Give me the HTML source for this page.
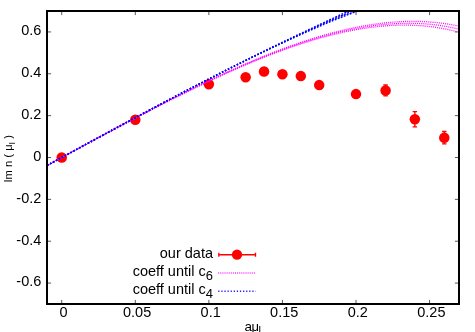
<!DOCTYPE html>
<html><head><meta charset="utf-8"><title>plot</title>
<style>
html,body{margin:0;padding:0;background:#fff;}
body{width:475px;height:332px;overflow:hidden;font-family:"Liberation Sans",sans-serif;}
svg{display:block;will-change:transform;}
text{font-family:"Liberation Sans",sans-serif;fill:#000;}
</style></head><body>
<svg width="475" height="332" viewBox="0 0 475 332">
<rect width="475" height="332" fill="#fff"/>
<defs><clipPath id="c"><rect x="48" y="12" width="410" height="291"/></clipPath></defs>

<g stroke="#000" stroke-width="1" stroke-opacity="0.65" fill="none">
<path d="M61.71,303 v-3.1 M61.71,12 v3.1"/>
<path d="M135.29,303 v-3.1 M135.29,12 v3.1"/>
<path d="M208.86,303 v-3.1 M208.86,12 v3.1"/>
<path d="M282.43,303 v-3.1 M282.43,12 v3.1"/>
<path d="M356.00,303 v-3.1 M356.00,12 v3.1"/>
<path d="M429.57,303 v-3.1 M429.57,12 v3.1"/>
<path d="M48,283.07 h3.1 M458,283.07 h-3.1"/>
<path d="M48,241.21 h3.1 M458,241.21 h-3.1"/>
<path d="M48,199.36 h3.1 M458,199.36 h-3.1"/>
<path d="M48,157.50 h3.1 M458,157.50 h-3.1"/>
<path d="M48,115.64 h3.1 M458,115.64 h-3.1"/>
<path d="M48,73.79 h3.1 M458,73.79 h-3.1"/>
<path d="M48,31.93 h3.1 M458,31.93 h-3.1"/>
</g>
<g font-size="14.5px">
<text x="63.51" y="316.6" text-anchor="middle">0</text>
<text x="137.09" y="316.6" text-anchor="middle">0.05</text>
<text x="210.66" y="316.6" text-anchor="middle">0.1</text>
<text x="284.23" y="316.6" text-anchor="middle">0.15</text>
<text x="357.80" y="316.6" text-anchor="middle">0.2</text>
<text x="431.37" y="316.6" text-anchor="middle">0.25</text>
<text x="41.3" y="286.37" text-anchor="end">-0.6</text>
<text x="41.3" y="244.51" text-anchor="end">-0.4</text>
<text x="41.3" y="202.66" text-anchor="end">-0.2</text>
<text x="41.3" y="160.80" text-anchor="end">0</text>
<text x="41.3" y="118.94" text-anchor="end">0.2</text>
<text x="41.3" y="77.09" text-anchor="end">0.4</text>
<text x="41.3" y="35.23" text-anchor="end">0.6</text>
</g>
<g clip-path="url(#c)">
<g stroke="#ff0000" stroke-width="1.35" fill="none">
<path d="M385.58,85.02 V95.82 M383.38,85.02 h4.4 M383.38,95.82 h4.4"/>
<path d="M414.86,111.60 V126.80 M412.66,111.60 h4.4 M412.66,126.80 h4.4"/>
<path d="M444.29,131.51 V143.90 M442.09,131.51 h4.4 M442.09,143.90 h4.4"/>
</g>
<g fill="#ff0000">
<circle cx="61.71" cy="157.50" r="5.25"/>
<circle cx="135.29" cy="119.70" r="5.25"/>
<circle cx="208.86" cy="84.21" r="5.25"/>
<circle cx="245.64" cy="77.30" r="5.25"/>
<circle cx="264.04" cy="71.48" r="5.25"/>
<circle cx="282.43" cy="74.31" r="5.25"/>
<circle cx="300.82" cy="76.09" r="5.25"/>
<circle cx="319.21" cy="85.09" r="5.25"/>
<circle cx="356.00" cy="94.09" r="5.25"/>
<circle cx="385.58" cy="90.42" r="5.25"/>
<circle cx="414.86" cy="119.20" r="5.25"/>
<circle cx="444.29" cy="137.70" r="5.25"/>
</g>
<g fill="none" stroke="#ff00ff" stroke-width="1.28">
<path d="M46.55,165.69l0.88,-0.47M48.40,164.69l0.88,-0.47M50.24,163.69l0.88,-0.47M52.09,162.70l0.88,-0.48M53.94,161.70l0.88,-0.48M55.79,160.70l0.88,-0.48M57.63,159.70l0.88,-0.48M59.48,158.71l0.88,-0.48M61.33,157.71l0.88,-0.48M63.17,156.71l0.88,-0.48M65.02,155.72l0.88,-0.48M66.86,154.72l0.88,-0.48M68.71,153.72l0.88,-0.48M70.55,152.73l0.88,-0.48M72.39,151.73l0.88,-0.47M74.24,150.74l0.88,-0.47M76.08,149.74l0.88,-0.47M77.93,148.75l0.88,-0.47M79.77,147.75l0.88,-0.47M81.62,146.76l0.88,-0.47M83.46,145.76l0.88,-0.47M85.31,144.77l0.88,-0.47M87.15,143.78l0.88,-0.47M89.00,142.78l0.88,-0.47M90.85,141.79l0.88,-0.47M92.69,140.80l0.88,-0.47M94.54,139.81l0.88,-0.47M96.39,138.81l0.88,-0.47M98.23,137.82l0.88,-0.47M100.08,136.83l0.88,-0.47M101.93,135.84l0.88,-0.47M103.78,134.85l0.88,-0.47M105.63,133.87l0.88,-0.47M107.47,132.88l0.88,-0.47M109.32,131.89l0.88,-0.47M111.17,130.91l0.88,-0.47M113.02,129.92l0.88,-0.47M114.87,128.94l0.88,-0.47M116.73,127.95l0.88,-0.47M118.58,126.97l0.88,-0.47M120.43,125.99l0.88,-0.47M122.28,125.01l0.88,-0.47M124.13,124.03l0.88,-0.47M125.99,123.05l0.88,-0.47M127.84,122.07l0.88,-0.47M129.70,121.09l0.89,-0.47M131.55,120.12l0.89,-0.47M133.41,119.14l0.89,-0.46M135.26,118.17l0.89,-0.46M137.12,117.20l0.89,-0.46M138.98,116.23l0.89,-0.46M140.84,115.26l0.89,-0.46M142.70,114.29l0.89,-0.46M144.56,113.32l0.89,-0.46M146.42,112.36l0.89,-0.46M148.28,111.39l0.89,-0.46M150.14,110.43l0.89,-0.46M152.00,109.47l0.89,-0.46M153.87,108.51l0.89,-0.46M155.73,107.55l0.89,-0.46M157.60,106.60l0.89,-0.46M159.46,105.64l0.89,-0.45M161.33,104.69l0.89,-0.45M163.20,103.74l0.89,-0.45M165.07,102.79l0.89,-0.45M166.94,101.84l0.89,-0.45M168.81,100.90l0.89,-0.45M170.68,99.96l0.89,-0.45M172.55,99.01l0.89,-0.45M174.43,98.08l0.89,-0.45M176.30,97.14l0.89,-0.45M178.18,96.20l0.90,-0.45M180.05,95.27l0.90,-0.44M181.93,94.34l0.90,-0.44M183.81,93.41l0.90,-0.44M185.69,92.49l0.90,-0.44M187.57,91.56l0.90,-0.44M189.45,90.64l0.90,-0.44M191.34,89.72l0.90,-0.44M193.22,88.81l0.90,-0.44M195.11,87.89l0.90,-0.43M197.00,86.98l0.90,-0.43M198.89,86.07l0.90,-0.43M200.78,85.17l0.90,-0.43M202.67,84.27l0.90,-0.43M204.56,83.37l0.90,-0.43M206.45,82.47l0.90,-0.43M208.35,81.57l0.91,-0.43M210.25,80.68l0.91,-0.42M212.15,79.80l0.91,-0.42M214.05,78.91l0.91,-0.42M215.95,78.03l0.91,-0.42M217.85,77.15l0.91,-0.42M219.75,76.28l0.91,-0.42M221.66,75.41l0.91,-0.41M223.57,74.54l0.91,-0.41M225.48,73.68l0.91,-0.41M227.39,72.82l0.91,-0.41M229.30,71.96l0.91,-0.41M231.21,71.11l0.91,-0.41M233.13,70.26l0.91,-0.40M235.05,69.42l0.92,-0.40M236.96,68.57l0.92,-0.40M238.89,67.74l0.92,-0.40M240.81,66.91l0.92,-0.40M242.73,66.08l0.92,-0.39M244.66,65.25l0.92,-0.39M246.59,64.44l0.92,-0.39M248.52,63.62l0.92,-0.39M250.45,62.81l0.92,-0.38M252.38,62.01l0.92,-0.38M254.32,61.21l0.92,-0.38M256.26,60.41l0.93,-0.38M258.20,59.62l0.93,-0.38M260.14,58.84l0.93,-0.37M262.08,58.06l0.93,-0.37M264.03,57.28l0.93,-0.37M265.97,56.51l0.93,-0.37M267.92,55.75l0.93,-0.36M269.88,54.99l0.93,-0.36M271.83,54.24l0.93,-0.36M273.79,53.49l0.94,-0.35M275.75,52.75l0.94,-0.35M277.71,52.02l0.94,-0.35M279.67,51.29l0.94,-0.35M281.63,50.57l0.94,-0.34M283.60,49.86l0.94,-0.34M285.57,49.15l0.94,-0.34M287.54,48.45l0.94,-0.33M289.52,47.75l0.94,-0.33M291.50,47.06l0.95,-0.33M293.47,46.38l0.95,-0.32M295.46,45.71l0.95,-0.32M297.44,45.04l0.95,-0.32M299.43,44.39l0.95,-0.31M301.41,43.73l0.95,-0.31M303.41,43.09l0.95,-0.30M305.40,42.46l0.95,-0.30M307.40,41.83l0.96,-0.30M309.39,41.21l0.96,-0.29M311.40,40.60l0.96,-0.29M313.40,40.00l0.96,-0.28M315.41,39.41l0.96,-0.28M317.41,38.83l0.96,-0.28M319.42,38.25l0.96,-0.27M321.44,37.69l0.96,-0.27M323.45,37.13l0.97,-0.26M325.47,36.59l0.97,-0.26M327.49,36.05l0.97,-0.25M329.52,35.52l0.97,-0.25M331.54,35.01l0.97,-0.24M333.57,34.50l0.97,-0.24M335.60,34.01l0.97,-0.23M337.64,33.53l0.97,-0.23M339.67,33.05l0.98,-0.22M341.71,32.59l0.98,-0.22M343.75,32.14l0.98,-0.21M345.80,31.70l0.98,-0.21M347.84,31.28l0.98,-0.20M349.89,30.86l0.98,-0.19M351.94,30.46l0.98,-0.19M353.99,30.07l0.98,-0.18M356.05,29.70l0.98,-0.18M358.11,29.33l0.99,-0.17M360.16,28.98l0.99,-0.16M362.23,28.64l0.99,-0.16M364.29,28.32l0.99,-0.15M366.36,28.01l0.99,-0.14M368.42,27.72l0.99,-0.14M370.49,27.44l0.99,-0.13M372.56,27.17l0.99,-0.12M374.64,26.92l0.99,-0.11M376.71,26.68l0.99,-0.11M378.79,26.46l0.99,-0.10M380.87,26.26l1.00,-0.09M382.95,26.07l1.00,-0.08M385.03,25.89l1.00,-0.08M387.11,25.74l1.00,-0.07M389.19,25.60l1.00,-0.06M391.27,25.48l1.00,-0.05M393.36,25.37l1.00,-0.04M395.45,25.28l1.00,-0.04M397.53,25.21l1.00,-0.03M399.62,25.16l1.00,-0.02M401.71,25.12l1.00,-0.01M403.79,25.11l1.00,-0.00M405.88,25.11l1.00,0.01M407.97,25.13l1.00,0.02M410.06,25.17l1.00,0.03M412.14,25.23l1.00,0.04M414.23,25.31l1.00,0.04M416.31,25.40l1.00,0.05M418.40,25.52l1.00,0.06M420.48,25.66l1.00,0.07M422.56,25.82l1.00,0.08M424.64,26.00l1.00,0.09M426.72,26.20l0.99,0.10M428.80,26.42l0.99,0.11M430.87,26.66l0.99,0.12M432.94,26.93l0.99,0.13M435.01,27.21l0.99,0.14M437.08,27.52l0.99,0.15M439.14,27.85l0.99,0.16M441.20,28.20l0.98,0.18M443.25,28.57l0.98,0.19M445.31,28.96l0.98,0.20M447.35,29.38l0.98,0.21M449.40,29.81l0.98,0.22M451.44,30.27l0.97,0.23M453.47,30.76l0.97,0.24M455.50,31.26l0.97,0.25"/>
<path d="M46.56,165.72l0.88,-0.48M48.41,164.72l0.88,-0.48M50.25,163.72l0.88,-0.48M52.10,162.72l0.88,-0.48M53.95,161.71l0.88,-0.48M55.79,160.71l0.88,-0.48M57.64,159.71l0.88,-0.48M59.48,158.71l0.88,-0.48M61.33,157.71l0.88,-0.48M63.17,156.71l0.88,-0.48M65.02,155.71l0.88,-0.48M66.87,154.71l0.88,-0.48M68.71,153.70l0.88,-0.48M70.56,152.70l0.88,-0.48M72.40,151.70l0.88,-0.48M74.25,150.70l0.88,-0.48M76.10,149.70l0.88,-0.48M77.94,148.70l0.88,-0.48M79.79,147.70l0.88,-0.48M81.64,146.70l0.88,-0.48M83.48,145.70l0.88,-0.48M85.33,144.70l0.88,-0.48M87.18,143.70l0.88,-0.48M89.02,142.70l0.88,-0.48M90.87,141.71l0.88,-0.48M92.72,140.71l0.88,-0.47M94.57,139.71l0.88,-0.47M96.42,138.71l0.88,-0.47M98.27,137.72l0.88,-0.47M100.11,136.72l0.88,-0.47M101.96,135.73l0.88,-0.47M103.81,134.73l0.88,-0.47M105.66,133.74l0.88,-0.47M107.51,132.75l0.88,-0.47M109.37,131.75l0.88,-0.47M111.22,130.76l0.88,-0.47M113.07,129.77l0.88,-0.47M114.92,128.78l0.88,-0.47M116.77,127.79l0.88,-0.47M118.63,126.81l0.88,-0.47M120.48,125.82l0.88,-0.47M122.33,124.83l0.88,-0.47M124.19,123.85l0.88,-0.47M126.04,122.86l0.88,-0.47M127.90,121.88l0.88,-0.47M129.76,120.90l0.88,-0.47M131.61,119.92l0.88,-0.47M133.47,118.94l0.88,-0.47M135.33,117.96l0.89,-0.47M137.19,116.98l0.89,-0.46M139.05,116.01l0.89,-0.46M140.91,115.03l0.89,-0.46M142.77,114.06l0.89,-0.46M144.63,113.09l0.89,-0.46M146.49,112.11l0.89,-0.46M148.35,111.15l0.89,-0.46M150.22,110.18l0.89,-0.46M152.08,109.21l0.89,-0.46M153.95,108.25l0.89,-0.46M155.81,107.28l0.89,-0.46M157.68,106.32l0.89,-0.46M159.55,105.36l0.89,-0.46M161.42,104.40l0.89,-0.46M163.29,103.45l0.89,-0.45M165.16,102.49l0.89,-0.45M167.03,101.54l0.89,-0.45M168.90,100.59l0.89,-0.45M170.77,99.64l0.89,-0.45M172.65,98.69l0.89,-0.45M174.52,97.75l0.89,-0.45M176.40,96.81l0.89,-0.45M178.28,95.87l0.89,-0.45M180.16,94.93l0.89,-0.45M182.04,93.99l0.90,-0.45M183.92,93.06l0.90,-0.44M185.80,92.13l0.90,-0.44M187.68,91.20l0.90,-0.44M189.57,90.27l0.90,-0.44M191.45,89.35l0.90,-0.44M193.34,88.42l0.90,-0.44M195.23,87.50l0.90,-0.44M197.12,86.59l0.90,-0.44M199.01,85.67l0.90,-0.43M200.90,84.76l0.90,-0.43M202.79,83.85l0.90,-0.43M204.69,82.95l0.90,-0.43M206.58,82.04l0.90,-0.43M208.48,81.14l0.90,-0.43M210.38,80.25l0.90,-0.43M212.28,79.35l0.91,-0.42M214.18,78.46l0.91,-0.42M216.08,77.58l0.91,-0.42M217.99,76.69l0.91,-0.42M219.90,75.81l0.91,-0.42M221.80,74.93l0.91,-0.42M223.71,74.06l0.91,-0.41M225.62,73.19l0.91,-0.41M227.54,72.32l0.91,-0.41M229.45,71.46l0.91,-0.41M231.37,70.60l0.91,-0.41M233.29,69.74l0.91,-0.41M235.21,68.89l0.91,-0.40M237.13,68.05l0.92,-0.40M239.05,67.20l0.92,-0.40M240.97,66.36l0.92,-0.40M242.90,65.53l0.92,-0.40M244.83,64.70l0.92,-0.39M246.76,63.87l0.92,-0.39M248.69,63.05l0.92,-0.39M250.63,62.23l0.92,-0.39M252.56,61.42l0.92,-0.39M254.50,60.61l0.92,-0.38M256.44,59.81l0.92,-0.38M258.38,59.01l0.93,-0.38M260.33,58.22l0.93,-0.38M262.28,57.43l0.93,-0.37M264.22,56.64l0.93,-0.37M266.17,55.87l0.93,-0.37M268.13,55.09l0.93,-0.37M270.08,54.33l0.93,-0.36M272.04,53.57l0.93,-0.36M274.00,52.81l0.93,-0.36M275.96,52.06l0.93,-0.35M277.92,51.32l0.94,-0.35M279.89,50.58l0.94,-0.35M281.86,49.85l0.94,-0.35M283.83,49.12l0.94,-0.34M285.80,48.41l0.94,-0.34M287.78,47.69l0.94,-0.34M289.76,46.99l0.94,-0.33M291.74,46.29l0.94,-0.33M293.72,45.60l0.95,-0.33M295.71,44.91l0.95,-0.32M297.69,44.24l0.95,-0.32M299.68,43.57l0.95,-0.32M301.68,42.91l0.95,-0.31M303.67,42.25l0.95,-0.31M305.67,41.60l0.95,-0.31M307.67,40.96l0.95,-0.30M309.67,40.33l0.95,-0.30M311.68,39.71l0.96,-0.29M313.69,39.10l0.96,-0.29M315.70,38.49l0.96,-0.29M317.71,37.89l0.96,-0.28M319.73,37.31l0.96,-0.28M321.75,36.73l0.96,-0.27M323.77,36.16l0.96,-0.27M325.79,35.60l0.96,-0.26M327.82,35.05l0.97,-0.26M329.85,34.51l0.97,-0.25M331.88,33.97l0.97,-0.25M333.91,33.45l0.97,-0.24M335.95,32.94l0.97,-0.24M337.99,32.44l0.97,-0.23M340.03,31.95l0.97,-0.23M342.08,31.48l0.97,-0.22M344.12,31.01l0.98,-0.22M346.17,30.55l0.98,-0.21M348.23,30.11l0.98,-0.21M350.28,29.67l0.98,-0.20M352.34,29.25l0.98,-0.20M354.40,28.85l0.98,-0.19M356.46,28.45l0.98,-0.18M358.53,28.07l0.98,-0.18M360.59,27.70l0.99,-0.17M362.66,27.34l0.99,-0.17M364.73,26.99l0.99,-0.16M366.81,26.66l0.99,-0.15M368.88,26.35l0.99,-0.15M370.96,26.04l0.99,-0.14M373.04,25.75l0.99,-0.13M375.12,25.48l0.99,-0.13M377.21,25.22l0.99,-0.12M379.29,24.98l0.99,-0.11M381.38,24.75l0.99,-0.10M383.47,24.53l1.00,-0.10M385.56,24.34l1.00,-0.09M387.65,24.15l1.00,-0.08M389.75,23.99l1.00,-0.07M391.84,23.84l1.00,-0.07M393.94,23.70l1.00,-0.06M396.03,23.59l1.00,-0.05M398.13,23.49l1.00,-0.04M400.23,23.41l1.00,-0.03M402.33,23.35l1.00,-0.02M404.43,23.30l1.00,-0.02M406.53,23.27l1.00,-0.01M408.63,23.26l1.00,0.00M410.73,23.27l1.00,0.01M412.83,23.30l1.00,0.02M414.93,23.35l1.00,0.03M417.03,23.42l1.00,0.04M419.12,23.50l1.00,0.05M421.22,23.61l1.00,0.06M423.32,23.73l1.00,0.07M425.41,23.88l1.00,0.08M427.51,24.05l1.00,0.09M429.60,24.23l1.00,0.10M431.69,24.44l0.99,0.11M433.77,24.67l0.99,0.12M435.86,24.92l0.99,0.13M437.94,25.19l0.99,0.14M440.02,25.48l0.99,0.15M442.10,25.79l0.99,0.16M444.17,26.13l0.99,0.17M446.24,26.48l0.98,0.18M448.31,26.86l0.98,0.19M450.37,27.26l0.98,0.20M452.43,27.68l0.98,0.21M454.48,28.13l0.98,0.22M456.53,28.59l0.97,0.23"/>
<path d="M46.57,165.75l0.88,-0.48M48.42,164.74l0.88,-0.48M50.26,163.74l0.88,-0.48M52.11,162.73l0.88,-0.48M53.95,161.73l0.88,-0.48M55.80,160.72l0.88,-0.48M57.64,159.72l0.88,-0.48M59.48,158.71l0.88,-0.48M61.33,157.71l0.88,-0.48M63.18,156.70l0.88,-0.48M65.02,155.70l0.88,-0.48M66.87,154.69l0.88,-0.48M68.72,153.68l0.88,-0.48M70.57,152.68l0.88,-0.48M72.41,151.67l0.88,-0.48M74.26,150.66l0.88,-0.48M76.11,149.66l0.88,-0.48M77.96,148.65l0.88,-0.48M79.81,147.65l0.88,-0.48M81.65,146.64l0.88,-0.48M83.50,145.64l0.88,-0.48M85.35,144.63l0.88,-0.48M87.20,143.63l0.88,-0.48M89.05,142.62l0.88,-0.48M90.90,141.62l0.88,-0.48M92.75,140.62l0.88,-0.48M94.60,139.62l0.88,-0.48M96.45,138.61l0.88,-0.48M98.30,137.61l0.88,-0.48M100.15,136.61l0.88,-0.48M102.00,135.61l0.88,-0.48M103.85,134.61l0.88,-0.47M105.70,133.61l0.88,-0.47M107.55,132.61l0.88,-0.47M109.41,131.62l0.88,-0.47M111.26,130.62l0.88,-0.47M113.11,129.62l0.88,-0.47M114.97,128.63l0.88,-0.47M116.82,127.64l0.88,-0.47M118.67,126.64l0.88,-0.47M120.53,125.65l0.88,-0.47M122.39,124.66l0.88,-0.47M124.24,123.67l0.88,-0.47M126.10,122.68l0.88,-0.47M127.96,121.69l0.88,-0.47M129.81,120.70l0.88,-0.47M131.67,119.72l0.88,-0.47M133.53,118.73l0.88,-0.47M135.39,117.75l0.88,-0.47M137.25,116.76l0.88,-0.47M139.11,115.78l0.88,-0.47M140.97,114.80l0.89,-0.47M142.84,113.82l0.89,-0.46M144.70,112.85l0.89,-0.46M146.56,111.87l0.89,-0.46M148.43,110.90l0.89,-0.46M150.29,109.92l0.89,-0.46M152.16,108.95l0.89,-0.46M154.03,107.98l0.89,-0.46M155.89,107.01l0.89,-0.46M157.76,106.05l0.89,-0.46M159.63,105.08l0.89,-0.46M161.50,104.12l0.89,-0.46M163.37,103.16l0.89,-0.46M165.25,102.20l0.89,-0.46M167.12,101.24l0.89,-0.45M168.99,100.28l0.89,-0.45M170.87,99.33l0.89,-0.45M172.74,98.37l0.89,-0.45M174.62,97.42l0.89,-0.45M176.50,96.48l0.89,-0.45M178.38,95.53l0.89,-0.45M180.26,94.59l0.89,-0.45M182.14,93.64l0.89,-0.45M184.02,92.70l0.90,-0.45M185.91,91.77l0.90,-0.44M187.79,90.83l0.90,-0.44M189.68,89.90l0.90,-0.44M191.57,88.97l0.90,-0.44M193.45,88.04l0.90,-0.44M195.34,87.12l0.90,-0.44M197.24,86.19l0.90,-0.44M199.13,85.27l0.90,-0.44M201.02,84.36l0.90,-0.43M202.92,83.44l0.90,-0.43M204.81,82.53l0.90,-0.43M206.71,81.62l0.90,-0.43M208.61,80.71l0.90,-0.43M210.51,79.81l0.90,-0.43M212.41,78.91l0.90,-0.43M214.32,78.01l0.91,-0.43M216.22,77.12l0.91,-0.42M218.13,76.23l0.91,-0.42M220.04,75.34l0.91,-0.42M221.95,74.46l0.91,-0.42M223.86,73.58l0.91,-0.42M225.77,72.70l0.91,-0.42M227.69,71.83l0.91,-0.41M229.60,70.96l0.91,-0.41M231.52,70.09l0.91,-0.41M233.44,69.23l0.91,-0.41M235.36,68.37l0.91,-0.41M237.29,67.52l0.91,-0.40M239.21,66.67l0.92,-0.40M241.14,65.82l0.92,-0.40M243.07,64.98l0.92,-0.40M245.00,64.14l0.92,-0.40M246.93,63.30l0.92,-0.39M248.87,62.47l0.92,-0.39M250.81,61.65l0.92,-0.39M252.74,60.83l0.92,-0.39M254.69,60.01l0.92,-0.39M256.63,59.20l0.92,-0.38M258.57,58.39l0.92,-0.38M260.52,57.59l0.93,-0.38M262.47,56.80l0.93,-0.38M264.42,56.00l0.93,-0.37M266.37,55.22l0.93,-0.37M268.33,54.44l0.93,-0.37M270.29,53.66l0.93,-0.37M272.25,52.89l0.93,-0.36M274.21,52.13l0.93,-0.36M276.18,51.37l0.93,-0.36M278.14,50.61l0.93,-0.36M280.11,49.87l0.94,-0.35M282.08,49.13l0.94,-0.35M284.06,48.39l0.94,-0.35M286.04,47.66l0.94,-0.34M288.01,46.94l0.94,-0.34M290.00,46.22l0.94,-0.34M291.98,45.51l0.94,-0.33M293.97,44.81l0.94,-0.33M295.96,44.12l0.94,-0.33M297.95,43.43l0.95,-0.32M299.94,42.75l0.95,-0.32M301.94,42.07l0.95,-0.32M303.94,41.41l0.95,-0.31M305.94,40.75l0.95,-0.31M307.95,40.10l0.95,-0.31M309.95,39.45l0.95,-0.30M311.96,38.82l0.95,-0.30M313.98,38.19l0.96,-0.29M315.99,37.57l0.96,-0.29M318.01,36.96l0.96,-0.29M320.03,36.36l0.96,-0.28M322.05,35.76l0.96,-0.28M324.08,35.18l0.96,-0.27M326.11,34.60l0.96,-0.27M328.14,34.04l0.96,-0.26M330.18,33.48l0.97,-0.26M332.21,32.93l0.97,-0.26M334.25,32.40l0.97,-0.25M336.30,31.87l0.97,-0.25M338.34,31.35l0.97,-0.24M340.39,30.85l0.97,-0.24M342.44,30.35l0.97,-0.23M344.50,29.87l0.97,-0.23M346.55,29.39l0.98,-0.22M348.61,28.93l0.98,-0.22M350.67,28.48l0.98,-0.21M352.74,28.04l0.98,-0.20M354.80,27.61l0.98,-0.20M356.87,27.20l0.98,-0.19M358.95,26.79l0.98,-0.19M361.02,26.40l0.98,-0.18M363.10,26.02l0.98,-0.17M365.18,25.66l0.99,-0.17M367.26,25.30l0.99,-0.16M369.34,24.97l0.99,-0.16M371.43,24.64l0.99,-0.15M373.52,24.33l0.99,-0.14M375.61,24.03l0.99,-0.14M377.70,23.75l0.99,-0.13M379.80,23.48l0.99,-0.12M381.90,23.22l0.99,-0.12M383.99,22.99l0.99,-0.11M386.09,22.76l0.99,-0.10M388.20,22.55l1.00,-0.09M390.30,22.36l1.00,-0.09M392.41,22.18l1.00,-0.08M394.51,22.02l1.00,-0.07M396.62,21.88l1.00,-0.06M398.73,21.75l1.00,-0.05M400.84,21.64l1.00,-0.05M402.95,21.55l1.00,-0.04M405.06,21.48l1.00,-0.03M407.17,21.42l1.00,-0.02M409.29,21.38l1.00,-0.01M411.40,21.36l1.00,-0.00M413.51,21.35l1.00,0.00M415.63,21.37l1.00,0.01M417.74,21.40l1.00,0.02M419.85,21.45l1.00,0.03M421.96,21.53l1.00,0.04M424.07,21.62l1.00,0.05M426.18,21.73l1.00,0.06M428.29,21.86l1.00,0.07M430.40,22.01l1.00,0.08M432.50,22.18l1.00,0.09M434.61,22.38l1.00,0.10M436.71,22.59l0.99,0.11M438.81,22.82l0.99,0.12M440.90,23.08l0.99,0.13M443.00,23.35l0.99,0.14M445.09,23.65l0.99,0.15M447.18,23.96l0.99,0.16M449.26,24.30l0.99,0.17M451.34,24.66l0.98,0.18M453.42,25.04l0.98,0.19M455.49,25.45l0.98,0.20M457.56,25.87l0.98,0.21"/>
</g>
<g fill="none" stroke="#0000ff" stroke-width="1.55">
<path d="M47.24,165.37l1.27,-0.69M50.14,163.79l1.27,-0.69M53.04,162.21l1.27,-0.69M55.94,160.64l1.27,-0.69M58.84,159.06l1.27,-0.69M61.74,157.49l1.27,-0.69M64.64,155.91l1.27,-0.69M67.54,154.33l1.27,-0.69M70.44,152.76l1.27,-0.69M73.34,151.18l1.27,-0.69M76.24,149.61l1.27,-0.69M79.14,148.03l1.27,-0.69M82.04,146.46l1.27,-0.69M84.94,144.88l1.27,-0.69M87.84,143.31l1.27,-0.69M90.74,141.73l1.27,-0.69M93.64,140.16l1.27,-0.69M96.54,138.59l1.27,-0.69M99.44,137.02l1.28,-0.69M102.34,135.45l1.28,-0.69M105.24,133.88l1.28,-0.69M108.15,132.31l1.28,-0.69M111.05,130.74l1.28,-0.69M113.95,129.17l1.28,-0.69M116.86,127.60l1.28,-0.69M119.76,126.04l1.28,-0.69M122.67,124.47l1.28,-0.69M125.57,122.91l1.28,-0.69M128.48,121.35l1.28,-0.69M131.39,119.78l1.28,-0.69M134.30,118.22l1.28,-0.69M137.21,116.67l1.28,-0.68M140.11,115.11l1.28,-0.68M143.02,113.55l1.28,-0.68M145.94,112.00l1.28,-0.68M148.85,110.45l1.28,-0.68M151.76,108.89l1.28,-0.68M154.67,107.35l1.28,-0.68M157.59,105.80l1.28,-0.68M160.50,104.25l1.28,-0.68M163.42,102.71l1.28,-0.68M166.34,101.17l1.28,-0.68M169.26,99.63l1.28,-0.68M172.18,98.09l1.28,-0.68M175.10,96.55l1.28,-0.67M178.02,95.02l1.29,-0.67M180.94,93.49l1.29,-0.67M183.87,91.96l1.29,-0.67M186.79,90.44l1.29,-0.67M189.72,88.91l1.29,-0.67M192.64,87.39l1.29,-0.67M195.57,85.87l1.29,-0.67M198.50,84.36l1.29,-0.67M201.43,82.84l1.29,-0.67M204.37,81.33l1.29,-0.66M207.30,79.83l1.29,-0.66M210.24,78.32l1.30,-0.66M213.17,76.82l1.30,-0.66M216.11,75.33l1.30,-0.66M219.05,73.83l1.30,-0.66M221.99,72.34l1.30,-0.66M224.93,70.86l1.30,-0.66M227.88,69.37l1.31,-0.66M230.82,67.89l1.31,-0.66M233.77,66.42l1.31,-0.65M236.72,64.95l1.31,-0.65M239.67,63.48l1.32,-0.65M242.62,62.02l1.32,-0.65M245.57,60.56l1.32,-0.65M248.52,59.11l1.32,-0.65M251.48,57.66l1.33,-0.65M254.44,56.21l1.33,-0.65M257.40,54.78l1.34,-0.65M260.36,53.34l1.34,-0.65M263.32,51.91l1.35,-0.65M266.28,50.49l1.35,-0.65M269.24,49.07l1.36,-0.65M272.21,47.66l1.36,-0.65M275.18,46.26l1.37,-0.65M278.15,44.86l1.38,-0.65M281.12,43.47l1.38,-0.65M284.09,42.08l1.39,-0.65M287.06,40.71l1.40,-0.65M290.03,39.34l1.41,-0.65M293.01,37.97l1.42,-0.65M295.99,36.62l1.43,-0.65M298.96,35.27l1.45,-0.65M301.94,33.93l1.46,-0.65M304.92,32.60l1.47,-0.65M307.90,31.28l1.49,-0.66M310.88,29.97l1.50,-0.66M313.87,28.67l1.52,-0.66M316.85,27.38l1.54,-0.66M319.83,26.09l1.56,-0.67M322.82,24.82l1.58,-0.67M325.80,23.56l1.60,-0.67M328.79,22.31l1.63,-0.68M331.77,21.08l1.65,-0.68M334.76,19.85l1.68,-0.68M337.75,18.64l1.71,-0.69M340.73,17.44l1.74,-0.69M343.72,16.26l1.77,-0.70M346.70,15.09l1.81,-0.70M349.69,13.93l1.85,-0.71M352.67,12.79l1.89,-0.71M355.66,11.66l1.92,-0.72M358.67,10.55l1.92,-0.71M361.67,9.45l1.93,-0.70M364.68,8.36l1.93,-0.69"/>
<path d="M47.24,165.37l1.27,-0.69M50.14,163.79l1.27,-0.69M53.04,162.21l1.27,-0.69M55.94,160.64l1.27,-0.69M58.84,159.06l1.27,-0.69M61.74,157.49l1.27,-0.69M64.64,155.91l1.27,-0.69M67.54,154.33l1.27,-0.69M70.44,152.76l1.27,-0.69M73.34,151.18l1.27,-0.69M76.24,149.61l1.27,-0.69M79.14,148.03l1.27,-0.69M82.04,146.46l1.27,-0.69M84.94,144.88l1.27,-0.69M87.84,143.31l1.27,-0.69M90.74,141.73l1.27,-0.69M93.64,140.16l1.27,-0.69M96.54,138.59l1.27,-0.69M99.44,137.02l1.28,-0.69M102.34,135.45l1.28,-0.69M105.24,133.88l1.28,-0.69M108.15,132.31l1.28,-0.69M111.05,130.74l1.28,-0.69M113.95,129.17l1.28,-0.69M116.86,127.60l1.28,-0.69M119.76,126.04l1.28,-0.69M122.67,124.47l1.28,-0.69M125.57,122.91l1.28,-0.69M128.48,121.34l1.28,-0.69M131.39,119.78l1.28,-0.69M134.30,118.22l1.28,-0.69M137.21,116.67l1.28,-0.68M140.11,115.11l1.28,-0.68M143.02,113.55l1.28,-0.68M145.94,112.00l1.28,-0.68M148.85,110.45l1.28,-0.68M151.76,108.89l1.28,-0.68M154.67,107.34l1.28,-0.68M157.59,105.80l1.28,-0.68M160.50,104.25l1.28,-0.68M163.42,102.71l1.28,-0.68M166.34,101.17l1.28,-0.68M169.26,99.63l1.28,-0.68M172.18,98.09l1.28,-0.68M175.10,96.55l1.28,-0.67M178.02,95.02l1.29,-0.67M180.94,93.49l1.29,-0.67M183.87,91.96l1.29,-0.67M186.79,90.43l1.29,-0.67M189.72,88.91l1.29,-0.67M192.65,87.38l1.29,-0.67M195.58,85.86l1.29,-0.67M198.51,84.35l1.29,-0.67M201.44,82.83l1.29,-0.67M204.37,81.32l1.29,-0.67M207.30,79.81l1.29,-0.66M210.24,78.31l1.30,-0.66M213.18,76.80l1.30,-0.66M216.12,75.30l1.30,-0.66M219.06,73.80l1.30,-0.66M222.00,72.31l1.30,-0.66M224.94,70.82l1.30,-0.66M227.89,69.33l1.30,-0.66M230.83,67.85l1.31,-0.66M233.78,66.37l1.31,-0.66M236.73,64.89l1.31,-0.66M239.68,63.41l1.31,-0.65M242.64,61.94l1.32,-0.65M245.59,60.48l1.32,-0.65M248.55,59.01l1.32,-0.65M251.50,57.55l1.33,-0.65M254.46,56.10l1.33,-0.65M257.43,54.65l1.33,-0.65M260.39,53.20l1.34,-0.65M263.35,51.76l1.34,-0.65M266.32,50.32l1.35,-0.65M269.29,48.88l1.35,-0.65M272.26,47.45l1.36,-0.65M275.23,46.02l1.37,-0.65M278.21,44.60l1.37,-0.65M281.18,43.18l1.38,-0.66M284.16,41.77l1.39,-0.66M287.14,40.36l1.40,-0.66M290.12,38.96l1.41,-0.66M293.11,37.56l1.42,-0.66M296.09,36.17l1.43,-0.66M299.08,34.78l1.44,-0.67M302.07,33.39l1.45,-0.67M305.06,32.02l1.46,-0.67M308.05,30.64l1.48,-0.68M311.05,29.28l1.49,-0.68M314.04,27.91l1.51,-0.68M317.04,26.56l1.53,-0.69M320.04,25.21l1.55,-0.69M323.04,23.86l1.57,-0.70M326.05,22.52l1.59,-0.71M329.05,21.19l1.61,-0.71M332.06,19.86l1.64,-0.72M335.07,18.54l1.66,-0.73M338.08,17.23l1.69,-0.73M341.09,15.92l1.72,-0.74M344.11,14.62l1.75,-0.75M347.12,13.32l1.79,-0.76M350.14,12.03l1.82,-0.77M353.16,10.75l1.86,-0.79M356.19,9.47l1.89,-0.79"/>
<path d="M47.24,165.37l1.27,-0.69M50.14,163.79l1.27,-0.69M53.04,162.21l1.27,-0.69M55.94,160.64l1.27,-0.69M58.84,159.06l1.27,-0.69M61.74,157.49l1.27,-0.69M64.64,155.91l1.27,-0.69M67.54,154.33l1.27,-0.69M70.44,152.76l1.27,-0.69M73.34,151.18l1.27,-0.69M76.24,149.61l1.27,-0.69M79.14,148.03l1.27,-0.69M82.04,146.46l1.27,-0.69M84.94,144.88l1.27,-0.69M87.84,143.31l1.27,-0.69M90.74,141.73l1.27,-0.69M93.64,140.16l1.27,-0.69M96.54,138.59l1.27,-0.69M99.44,137.02l1.28,-0.69M102.34,135.45l1.28,-0.69M105.24,133.88l1.28,-0.69M108.15,132.31l1.28,-0.69M111.05,130.74l1.28,-0.69M113.95,129.17l1.28,-0.69M116.86,127.60l1.28,-0.69M119.76,126.04l1.28,-0.69M122.67,124.47l1.28,-0.69M125.57,122.91l1.28,-0.69M128.48,121.34l1.28,-0.69M131.39,119.78l1.28,-0.69M134.30,118.22l1.28,-0.69M137.21,116.66l1.28,-0.68M140.11,115.11l1.28,-0.68M143.03,113.55l1.28,-0.68M145.94,112.00l1.28,-0.68M148.85,110.44l1.28,-0.68M151.76,108.89l1.28,-0.68M154.67,107.34l1.28,-0.68M157.59,105.80l1.28,-0.68M160.50,104.25l1.28,-0.68M163.42,102.71l1.28,-0.68M166.34,101.16l1.28,-0.68M169.26,99.62l1.28,-0.68M172.18,98.08l1.28,-0.68M175.10,96.55l1.28,-0.67M178.02,95.01l1.28,-0.67M180.94,93.48l1.29,-0.67M183.87,91.95l1.29,-0.67M186.79,90.42l1.29,-0.67M189.72,88.90l1.29,-0.67M192.65,87.38l1.29,-0.67M195.58,85.85l1.29,-0.67M198.51,84.34l1.29,-0.67M201.44,82.82l1.29,-0.67M204.37,81.31l1.29,-0.67M207.31,79.80l1.29,-0.66M210.25,78.29l1.29,-0.66M213.18,76.78l1.30,-0.66M216.12,75.28l1.30,-0.66M219.06,73.78l1.30,-0.66M222.01,72.28l1.30,-0.66M224.95,70.78l1.30,-0.66M227.90,69.29l1.30,-0.66M230.84,67.80l1.31,-0.66M233.79,66.31l1.31,-0.66M236.75,64.83l1.31,-0.66M239.70,63.35l1.31,-0.66M242.65,61.87l1.32,-0.66M245.61,60.39l1.32,-0.66M248.57,58.92l1.32,-0.66M251.53,57.45l1.32,-0.66M254.49,55.98l1.33,-0.66M257.46,54.52l1.33,-0.66M260.42,53.06l1.34,-0.66M263.39,51.60l1.34,-0.66M266.36,50.14l1.35,-0.66M269.34,48.69l1.35,-0.66M272.31,47.23l1.36,-0.66M275.29,45.79l1.36,-0.66M278.27,44.34l1.37,-0.66M281.25,42.90l1.38,-0.66M284.23,41.45l1.38,-0.67M287.22,40.02l1.39,-0.67M290.21,38.58l1.40,-0.67M293.20,37.14l1.41,-0.67M296.20,35.71l1.42,-0.68M299.20,34.28l1.43,-0.68M302.19,32.85l1.44,-0.69M305.20,31.43l1.46,-0.69M308.20,30.00l1.47,-0.70M311.21,28.58l1.48,-0.70M314.22,27.15l1.50,-0.71M317.24,25.73l1.52,-0.71M320.25,24.31l1.53,-0.72M323.27,22.89l1.55,-0.73M326.30,21.47l1.57,-0.74M329.32,20.05l1.59,-0.75M332.35,18.63l1.62,-0.76M335.38,17.21l1.64,-0.77M338.42,15.79l1.67,-0.78M341.46,14.37l1.70,-0.79M344.50,12.94l1.73,-0.81M347.55,11.52l1.76,-0.82M350.60,10.09l1.79,-0.84M353.65,8.66l1.83,-0.86"/>
</g>
</g>
<rect x="47" y="11" width="412" height="293" fill="none" stroke="#000" stroke-width="2"/>
<g font-size="14.5px">
<text x="213" y="258.1" text-anchor="end">our data</text>
<text x="213" y="276" text-anchor="end">coeff until c<tspan font-size="13px" dy="3.9">6</tspan></text>
<text x="213" y="294.3" text-anchor="end">coeff until c<tspan font-size="13px" dy="3.9">4</tspan></text>
</g>
<path d="M218.8,254.7 H255.5 M218.8,252.7 v4 M255.5,252.7 v4" stroke="#ff0000" stroke-width="1.35" fill="none"/>
<circle cx="237" cy="254.7" r="5.15" fill="#ff0000"/>
<path d="M218.2,273 H255.7" stroke="#ff00ff" stroke-width="2" stroke-dasharray="1 1.1" stroke-opacity="0.6" fill="none"/>
<path d="M218.2,291.3 H255.7" stroke="#0000ff" stroke-width="1.5" stroke-dasharray="1.3 1.8" stroke-opacity="0.85" fill="none"/>
<text x="244.6" y="330.7" font-size="13.5px">a<tspan dx="-0.6" font-size="13px">μ</tspan><tspan font-size="10.8px" dx="-0.7" dy="3.3">I</tspan></text>
<text transform="translate(11.8,158.8) rotate(-90)" font-size="11.2px" text-anchor="middle">Im n ( μ<tspan font-size="9px" dy="3">I</tspan><tspan dy="-3"> )</tspan></text>
</svg></body></html>
